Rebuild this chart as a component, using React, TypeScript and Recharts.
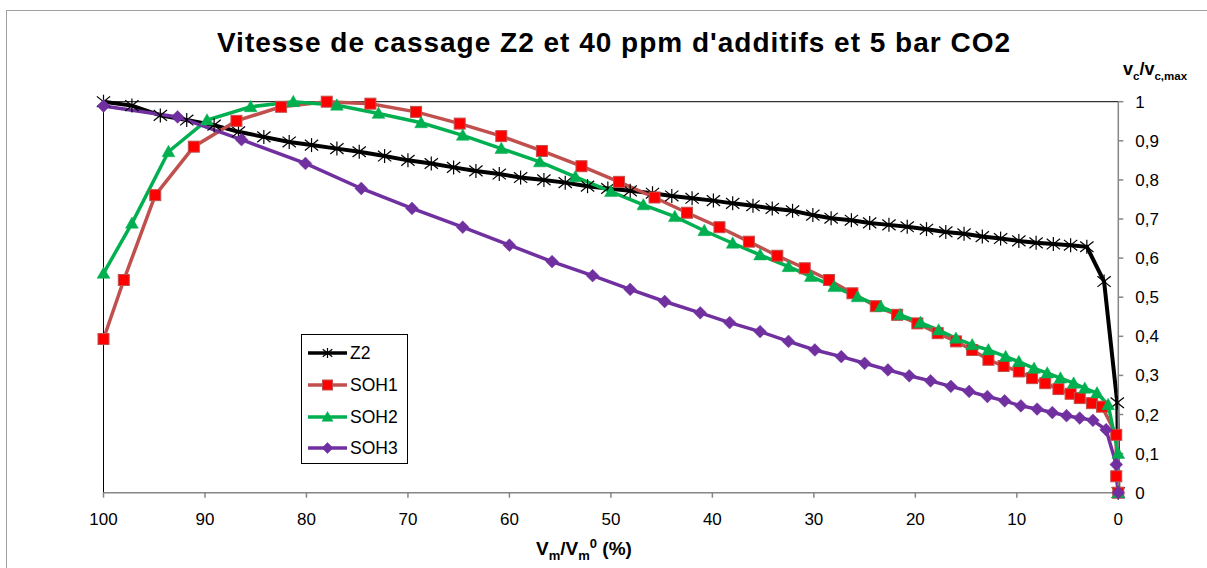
import React from "react";
import { LineChart, Line, XAxis, YAxis, Legend, ReferenceLine } from "recharts";

const FONT = "'Liberation Sans', Arial, sans-serif";

const xTicks = [100, 90, 80, 70, 60, 50, 40, 30, 20, 10, 0];
const yTicks = [0, 0.1, 0.2, 0.3, 0.4, 0.5, 0.6, 0.7, 0.8, 0.9, 1];

// Z2
const z2X = [100, 97.2, 94.4, 91.8, 89.1, 86.7, 84.2, 81.7, 79.5, 77.0, 74.8, 72.3, 70.0, 67.7, 65.5, 63.3, 61.0, 58.9, 56.6, 54.5, 52.3, 50.3, 48.1, 45.9, 44.0, 42.0, 39.9, 38.0, 36.0, 34.1, 32.1, 30.1, 28.3, 26.3, 24.5, 22.6, 20.8, 18.9, 17.0, 15.2, 13.4, 11.6, 9.8, 8.1, 6.4, 4.7, 3.1, 1.4, 0.1, 0];
const z2Y = [1.0, 0.99, 0.965, 0.953, 0.94, 0.923, 0.91, 0.897, 0.889, 0.88, 0.872, 0.861, 0.85, 0.842, 0.832, 0.823, 0.815, 0.806, 0.8, 0.793, 0.784, 0.778, 0.772, 0.766, 0.759, 0.753, 0.747, 0.74, 0.734, 0.727, 0.721, 0.71, 0.702, 0.697, 0.69, 0.685, 0.68, 0.674, 0.667, 0.662, 0.655, 0.65, 0.644, 0.639, 0.636, 0.633, 0.629, 0.54, 0.23, 0];

// SOH1
const soh1X = [100, 98.0, 94.9, 91.1, 86.9, 82.5, 78.0, 73.7, 69.2, 64.9, 60.8, 56.8, 52.9, 49.2, 45.7, 42.5, 39.3, 36.4, 33.6, 30.9, 28.5, 26.2, 23.9, 21.8, 19.8, 17.8, 16.0, 14.4, 12.8, 11.3, 9.8, 8.5, 7.2, 5.9, 4.7, 3.8, 2.6, 1.6, 0.2, 0.2, 0];
const soh1Y = [0.393, 0.544, 0.761, 0.885, 0.951, 0.987, 1.0, 0.995, 0.974, 0.944, 0.912, 0.874, 0.835, 0.795, 0.755, 0.716, 0.679, 0.642, 0.606, 0.574, 0.544, 0.51, 0.477, 0.455, 0.433, 0.408, 0.387, 0.365, 0.34, 0.324, 0.31, 0.293, 0.28, 0.265, 0.253, 0.242, 0.229, 0.22, 0.148, 0.042, 0];

// SOH2
const soh2X = [100, 97.2, 93.6, 89.8, 85.5, 81.3, 77.0, 72.9, 68.7, 64.6, 60.8, 57.0, 53.5, 50.0, 46.8, 43.7, 40.8, 38.0, 35.3, 32.5, 30.3, 28.0, 25.7, 23.4, 21.5, 19.5, 17.7, 16.0, 14.4, 12.8, 11.1, 9.8, 8.3, 7.0, 5.7, 4.4, 3.3, 2.1, 1.0, 0, 0];
const soh2Y = [0.561, 0.689, 0.872, 0.953, 0.987, 1.0, 0.991, 0.97, 0.946, 0.914, 0.88, 0.846, 0.808, 0.77, 0.736, 0.706, 0.67, 0.638, 0.608, 0.578, 0.553, 0.527, 0.501, 0.476, 0.455, 0.435, 0.416, 0.395, 0.378, 0.365, 0.348, 0.335, 0.318, 0.306, 0.293, 0.28, 0.267, 0.255, 0.225, 0.1, 0];

// SOH3
const soh3X = [100, 92.7, 86.4, 80.1, 74.6, 69.6, 64.6, 60.0, 55.8, 51.8, 48.1, 44.7, 41.2, 38.3, 35.3, 32.5, 29.9, 27.3, 25.0, 22.7, 20.6, 18.5, 16.5, 14.7, 12.9, 11.2, 9.6, 8.0, 6.5, 5.1, 3.8, 2.5, 1.2, 0.2, 0];
const soh3Y = [0.989, 0.961, 0.903, 0.842, 0.778, 0.727, 0.679, 0.633, 0.591, 0.555, 0.52, 0.489, 0.46, 0.435, 0.412, 0.387, 0.365, 0.348, 0.331, 0.314, 0.299, 0.286, 0.272, 0.259, 0.246, 0.235, 0.222, 0.214, 0.205, 0.197, 0.191, 0.185, 0.161, 0.072, 0];

const toPoints = (xs: number[], ys: number[]) => xs.map((x, i) => ({ x, y: ys[i] }));

type MarkerKind = "star" | "square" | "triangle" | "diamond";

const series: { name: string; data: { x: number; y: number }[]; stroke: string; kind: MarkerKind }[] = [
  { name: "Z2", data: toPoints(z2X, z2Y), stroke: "#000000", kind: "star" },
  { name: "SOH1", data: toPoints(soh1X, soh1Y), stroke: "#C0504D", kind: "square" },
  { name: "SOH2", data: toPoints(soh2X, soh2Y), stroke: "#00B050", kind: "triangle" },
  { name: "SOH3", data: toPoints(soh3X, soh3Y), stroke: "#7030A0", kind: "diamond" },
];

function Marker({ kind, cx, cy, s }: { kind: MarkerKind; cx: number; cy: number; s: number }) {
  if (cx == null || cy == null) return null;
  if (kind === "star") {
    const d = s * 0.95;
    return (
      <g stroke="#000" strokeWidth={1.2}>
        <line x1={cx - d} y1={cy - d * 0.8} x2={cx + d} y2={cy + d * 0.8} />
        <line x1={cx - d} y1={cy + d * 0.8} x2={cx + d} y2={cy - d * 0.8} />
        <line x1={cx} y1={cy - s} x2={cx} y2={cy + s} />
      </g>
    );
  }
  if (kind === "square") {
    return <rect x={cx - s} y={cy - s} width={2 * s} height={2 * s} fill="#FF0000" stroke="#C0504D" strokeWidth={1} />;
  }
  if (kind === "triangle") {
    return (
      <polygon
        points={`${cx},${cy - s * 1.1} ${cx + s * 1.1},${cy + s * 0.85} ${cx - s * 1.1},${cy + s * 0.85}`}
        fill="#00B050"
        stroke="#00B050"
        strokeWidth={0.5}
      />
    );
  }
  return (
    <polygon
      points={`${cx},${cy - s * 1.1} ${cx + s * 1.1},${cy} ${cx},${cy + s * 1.1} ${cx - s * 1.1},${cy}`}
      fill="#7030A0"
      stroke="#7030A0"
      strokeWidth={0.5}
    />
  );
}

const markerSize: Record<MarkerKind, number> = { star: 7, square: 5.5, triangle: 5.8, diamond: 5.8 };

const yFormat = (v: number) => (v === 0 || v === 1 ? String(v) : v.toFixed(1).replace(".", ","));

function LegendBox() {
  const rows = [19, 51, 83, 114];
  return (
    <svg width={107} height={130} style={{ display: "block" }}>
      <rect x={0.5} y={0.5} width={106} height={129} fill="#fff" stroke="#000" strokeWidth={1} />
      {series.map((s, i) => (
        <g key={s.name}>
          <line x1={7} x2={46} y1={rows[i]} y2={rows[i]} stroke={s.stroke} strokeWidth={3.5} />
          <Marker kind={s.kind} cx={26.5} cy={rows[i]} s={5} />
          <text x={49} y={rows[i] + 6} fontSize={17.5} fontFamily={FONT} fill="#000">
            {s.name}
          </text>
        </g>
      ))}
    </svg>
  );
}

export default function App() {
  return (
    <div
      style={{
        position: "absolute",
        left: 0,
        top: 0,
        width: 1207,
        height: 568,
        overflow: "hidden",
        background: "#fff",
        fontFamily: FONT,
      }}
    >
      <div
        style={{
          position: "absolute",
          left: 6,
          top: 10,
          width: 1230,
          height: 620,
          border: "1.5px solid #a0a0a0",
        }}
      />
      <div style={{ position: "absolute", left: 0, top: 0 }}>
        <LineChart width={1207} height={568} margin={{ top: 101.7, left: 103.5, right: 28.7, bottom: 45.3 }}>
          <XAxis
            type="number"
            dataKey="x"
            domain={[0, 100]}
            reversed
            ticks={xTicks}
            height={30}
            stroke="#868686"
            strokeWidth={1.5}
            tickSize={5}
            tickMargin={15}
            tick={{ fill: "#000", fontSize: 17, fontFamily: FONT }}
            allowDuplicatedCategory={false}
          />
          <YAxis
            type="number"
            orientation="right"
            domain={[0, 1]}
            ticks={yTicks}
            width={60}
            stroke="#868686"
            strokeWidth={1.5}
            tickSize={5}
            tickMargin={12}
            tickFormatter={yFormat}
            tick={{ fill: "#000", fontSize: 17, fontFamily: FONT }}
          />
          <ReferenceLine y={1} stroke="#000" strokeWidth={1} />
          <ReferenceLine x={100} stroke="#000" strokeWidth={1} />
          {series.map((s) => (
            <Line
              key={s.name}
              data={s.data}
              dataKey="y"
              name={s.name}
              type="linear"
              stroke={s.stroke}
              strokeWidth={s.kind === "star" ? 4 : 3.5}
              isAnimationActive={false}
              activeDot={false}
              dot={(p: any) => (
                <Marker key={`${s.name}-${p.index}`} kind={s.kind} cx={p.cx} cy={p.cy} s={markerSize[s.kind]} />
              )}
            />
          ))}
          <Legend
            layout="vertical"
            align="center"
            verticalAlign="middle"
            wrapperStyle={{ left: 301, top: 334, width: 107, height: 130 }}
            content={() => <LegendBox />}
          />
        </LineChart>
      </div>
      <svg
        width={1207}
        height={568}
        style={{ position: "absolute", left: 0, top: 0, pointerEvents: "none" }}
        fontFamily={FONT}
      >
        <text x={614} y={52} textAnchor="middle" fontSize={28} fontWeight="bold" letterSpacing={1} fill="#000">
          Vitesse de cassage Z2 et 40 ppm d'additifs et 5 bar CO2
        </text>
        <text x={1123} y={75} fontSize={18} fontWeight="bold" fill="#000">
          v<tspan fontSize={11.5} dy={5}>c</tspan>
          <tspan dy={-5}>/v</tspan>
          <tspan fontSize={11.5} dy={5}>c,max</tspan>
        </text>
        <text x={584} y={555} textAnchor="middle" fontSize={19} fontWeight="bold" fill="#000">
          V<tspan fontSize={13} dy={5}>m</tspan>
          <tspan dy={-5}>/V</tspan>
          <tspan fontSize={13} dy={5}>m</tspan>
          <tspan fontSize={13} dy={-12}>0</tspan>
          <tspan dy={7}> (%)</tspan>
        </text>
      </svg>
    </div>
  );
}
